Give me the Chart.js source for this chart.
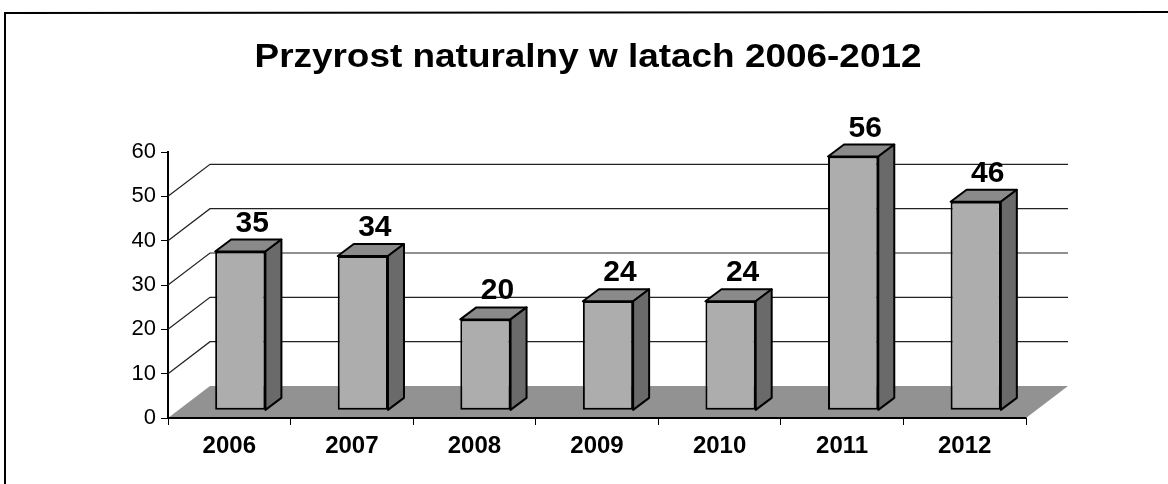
<!DOCTYPE html>
<html>
<head>
<meta charset="utf-8">
<script src="https://cdn.jsdelivr.net/npm/chart.js@4"></script>
<style>
  html, body { margin: 0; padding: 0; background: #fff; overflow: hidden; }
  #wrap { width: 1168px; height: 484px; }
  canvas { display: block; }
</style>
</head>
<body>
<div id="wrap"><canvas id="my-chart" width="1168" height="484"></canvas></div>
<script>
'use strict';

// *** DATA ***

let chartTitle = 'Przyrost naturalny w latach 2006-2012';
let years = ['2006', '2007', '2008', '2009', '2010', '2011', '2012'];
let growth = [35, 34, 20, 24, 24, 56, 46];
let yTicks = [0, 10, 20, 30, 40, 50, 60];
let wallLines = [10, 20, 30, 40, 50];

// *** LOOK ***

let fontFamily = "'Liberation Sans', Arial, sans-serif";
let wallDX = 42;
let wallDY = -32;
let barDX = 16;
let barDY = -12;
let barShift = 11;

// *** PLUGIN: frame, title, walls, floor, bar sides, labels ***

let box3d = {
  id: 'box3d',

  beforeDraw(chart) {
    let ctx = chart.ctx;
    ctx.save();
    ctx.fillStyle = '#fff';
    ctx.fillRect(0, 0, chart.width, chart.height);

    // outer frame (only top and left visible)
    ctx.strokeStyle = '#000';
    ctx.lineWidth = 2;
    ctx.beginPath();
    ctx.moveTo(5, chart.height);
    ctx.lineTo(5, 13);
    ctx.lineTo(chart.width, 12);
    ctx.stroke();

    // title
    ctx.font = 'bold 33px ' + fontFamily;
    ctx.fillStyle = '#000';
    ctx.textAlign = 'center';
    ctx.textBaseline = 'alphabetic';
    let w = ctx.measureText(chartTitle).width;
    ctx.translate(588, 67);
    ctx.scale(667 / w, 1);
    ctx.fillText(chartTitle, 0, 0);
    ctx.restore();
  },

  beforeDatasetsDraw(chart) {
    let ctx = chart.ctx;
    let area = chart.chartArea;
    let yScale = chart.scales.y;

    ctx.save();
    ctx.strokeStyle = '#222';
    ctx.lineWidth = 1.2;
    for (let i = 0; i < wallLines.length; i++) {
      let py = yScale.getPixelForValue(wallLines[i]);
      ctx.beginPath();
      ctx.moveTo(area.left, py);
      ctx.lineTo(area.left + wallDX, py + wallDY);
      ctx.lineTo(area.right + wallDX, py + wallDY);
      ctx.stroke();
    }

    // floor
    let y0 = yScale.getPixelForValue(0);
    ctx.fillStyle = '#929292';
    ctx.beginPath();
    ctx.moveTo(area.left, y0);
    ctx.lineTo(area.right, y0);
    ctx.lineTo(area.right + wallDX, y0 + wallDY);
    ctx.lineTo(area.left + wallDX, y0 + wallDY);
    ctx.closePath();
    ctx.fill();
    ctx.strokeStyle = '#000';
    ctx.lineWidth = 2;
    ctx.beginPath();
    ctx.moveTo(area.left, y0);
    ctx.lineTo(area.right, y0);
    ctx.stroke();
    ctx.restore();

    // bars are drawn a bit to the right, as in the 3D original
    ctx.save();
    ctx.translate(barShift, 0);
  },

  afterDatasetsDraw(chart) {
    let ctx = chart.ctx;
    let meta = chart.getDatasetMeta(0);

    ctx.lineJoin = 'round';
    ctx.lineWidth = 2;
    ctx.strokeStyle = '#000';

    for (let i = 0; i < meta.data.length; i++) {
      let bar = meta.data[i];
      let left = bar.x - bar.width / 2;
      let right = bar.x + bar.width / 2;
      let top = bar.y;
      let base = bar.base;

      // top face
      ctx.fillStyle = '#8a8a8a';
      ctx.beginPath();
      ctx.moveTo(left, top);
      ctx.lineTo(right, top);
      ctx.lineTo(right + barDX, top + barDY);
      ctx.lineTo(left + barDX, top + barDY);
      ctx.closePath();
      ctx.fill();
      ctx.stroke();

      // side face
      ctx.fillStyle = '#6a6a6a';
      ctx.beginPath();
      ctx.moveTo(right, top);
      ctx.lineTo(right + barDX, top + barDY);
      ctx.lineTo(right + barDX, base + barDY);
      ctx.lineTo(right, base);
      ctx.closePath();
      ctx.fill();
      ctx.stroke();

      // value label
      ctx.fillStyle = '#000';
      ctx.font = 'bold 30px ' + fontFamily;
      ctx.textAlign = 'center';
      ctx.textBaseline = 'alphabetic';
      ctx.fillText(String(growth[i]), bar.x + barDX / 2 + 4, top + barDY - 8);
    }

    ctx.restore();
  }
};

// *** CHART ***

let canvasElem = document.getElementById('my-chart');

let myObj = {
  type: 'bar',
  data: {
    labels: years,
    datasets: [{
      label: 'Przyrost naturalny',
      data: growth,
      yAxisID: 'y2',
      backgroundColor: '#adadad',
      borderColor: '#000',
      borderWidth: 2,
      borderSkipped: false,
      barPercentage: 0.41,
      categoryPercentage: 1
    }]
  },
  options: {
    responsive: false,
    animation: false,
    devicePixelRatio: 1,
    layout: {
      padding: { top: 152, right: 142, left: 0, bottom: 0 }
    },
    plugins: {
      legend: { display: false },
      title: { display: false },
      tooltip: { enabled: false }
    },
    scales: {
      x: {
        grid: { drawOnChartArea: false, tickLength: 7, color: '#000', offset: true },
        border: { color: '#000', width: 2 },
        ticks: {
          color: '#000',
          padding: 7,
          font: { family: fontFamily, size: 24, weight: 'bold' }
        },
        afterFit(scale) { scale.height = 66; }
      },
      y: {
        min: 0,
        max: 60,
        afterBuildTicks(scale) {
          scale.ticks = yTicks.map(v => ({ value: v }));
        },
        grid: { drawOnChartArea: false, tickLength: 7, color: '#000' },
        border: { color: '#000', width: 2 },
        ticks: {
          color: '#000',
          padding: 5,
          font: { family: fontFamily, size: 22 }
        },
        afterFit(scale) { scale.width = 168; }
      },
      // the bars in the original sit slightly higher and taller than the axis
      y2: {
        display: false,
        min: -1.8,
        max: 57
      }
    }
  },
  plugins: [box3d]
};

new Chart(canvasElem, myObj);
</script>
</body>
</html>
